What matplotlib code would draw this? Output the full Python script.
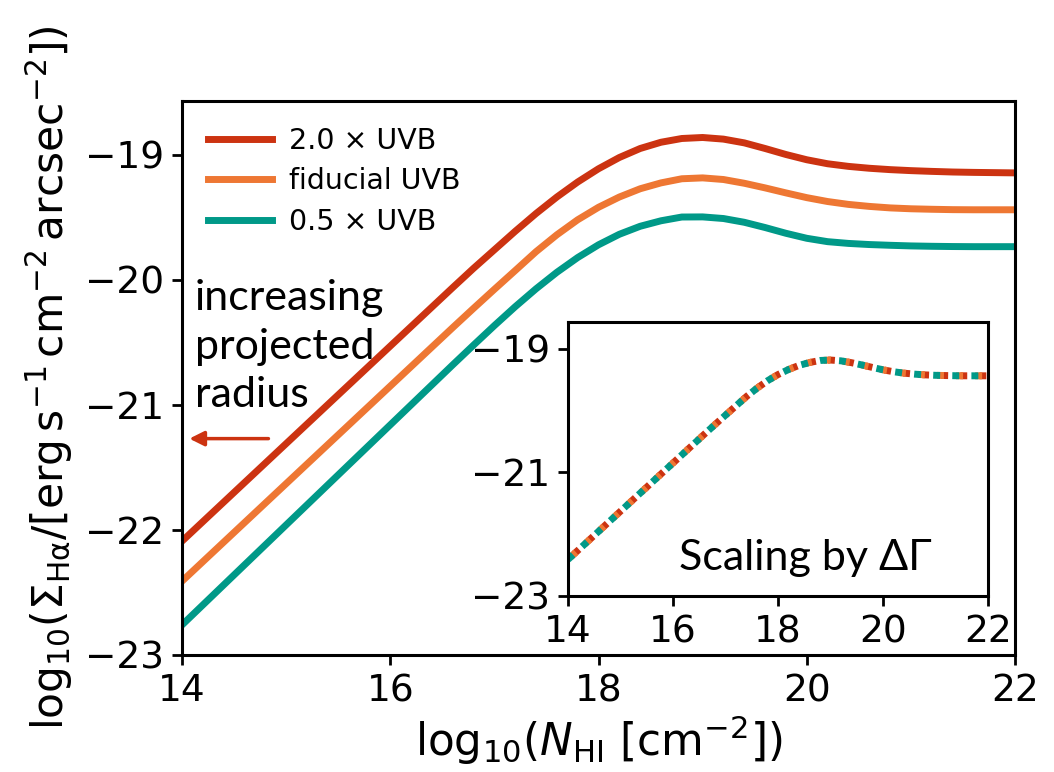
import matplotlib
matplotlib.use("Agg")
import matplotlib.pyplot as plt

# log10(N_HI) grid and log10 surface brightness
log_nhi = [14.0, 14.2, 14.4, 14.6, 14.8, 15.0, 15.2, 15.4, 15.6, 15.8, 16.0,
           16.2, 16.4, 16.6, 16.8, 17.0, 17.2, 17.4, 17.6, 17.8, 18.0,
           18.2, 18.4, 18.6, 18.8, 19.0, 19.2, 19.4, 19.6, 19.8, 20.0,
           20.2, 20.4, 20.6, 20.8, 21.0, 21.2, 21.4, 21.6, 21.8, 22.0]

sb_2x = [-22.090, -21.934, -21.778, -21.622, -21.466, -21.310, -21.154, -20.998,
         -20.842, -20.686, -20.530, -20.374, -20.218, -20.062, -19.908, -19.760,
         -19.612, -19.470, -19.338, -19.218, -19.112, -19.022, -18.950, -18.900,
         -18.870, -18.862, -18.875, -18.905, -18.950, -18.998, -19.040, -19.072,
         -19.093, -19.108, -19.119, -19.127, -19.133, -19.138, -19.141, -19.143,
         -19.145]

sb_fid = [-22.410, -22.254, -22.098, -21.942, -21.786, -21.630, -21.474, -21.318,
          -21.162, -21.006, -20.850, -20.694, -20.538, -20.382, -20.228, -20.076,
          -19.926, -19.775, -19.640, -19.520, -19.420, -19.338, -19.272, -19.225,
          -19.192, -19.185, -19.198, -19.228, -19.265, -19.305, -19.343, -19.374,
          -19.397, -19.413, -19.425, -19.432, -19.436, -19.439, -19.440, -19.440,
          -19.440]

sb_half = [-22.760, -22.600, -22.440, -22.280, -22.120, -21.960, -21.800, -21.640,
           -21.480, -21.320, -21.160, -21.000, -20.840, -20.680, -20.522, -20.366,
           -20.215, -20.072, -19.940, -19.822, -19.720, -19.636, -19.572, -19.528,
           -19.498, -19.497, -19.510, -19.540, -19.582, -19.628, -19.668, -19.695,
           -19.709, -19.718, -19.724, -19.729, -19.732, -19.734, -19.735, -19.735,
           -19.735]

labels = ["2.0 × UVB", "fiducial UVB", "0.5 × UVB"]
colors = ["#CC3311", "#EE7733", "#009988"]

xticks = [14, 16, 18, 20, 22]
yticks_main = [-23, -22, -21, -20, -19]
yticks_inset = [-23, -21, -19]

plt.rcParams["font.family"] = ["DejaVu Sans"]
plt.rcParams["mathtext.fontset"] = "dejavusans"

fig = plt.figure(figsize=(10.54, 7.72), dpi=100)
ax = fig.add_axes([0.1727, 0.1516, 0.7903, 0.7176])

series = [sb_2x, sb_fid, sb_half]
for y, c, lab in zip(series, colors, labels):
    ax.plot(log_nhi, y, color=c, lw=5, label=lab)

ax.set_xlim(14, 22)
ax.set_ylim(-23, -18.57)
ax.set_xticks(xticks)
ax.set_yticks(yticks_main)
ax.tick_params(labelsize=27, width=2, length=7, pad=6)
for s in ax.spines.values():
    s.set_linewidth(2.2)

ax.set_xlabel(r"$\mathrm{log}_{10}(N_{\rm HI}\ [{\rm cm}^{-2}])$", fontsize=31.5, labelpad=3)
ax.set_ylabel(r"$\mathrm{log}_{10}(\Sigma_{\rm H\alpha}/[{\rm erg\,s^{-1}\,cm^{-2}\,arcsec^{-2}}])$",
              fontsize=30.5, labelpad=7)

ax.legend(loc="upper left", frameon=False, fontsize=20.5, handlelength=2.25,
          handletextpad=0.62, labelspacing=0.44, borderaxespad=0.5)

ax.text(14.12, -21.02, "increasing\nprojected\nradius", fontsize=31,
        family=["Lato", "DejaVu Sans"], ha="left", va="baseline", linespacing=1.35)
ax.annotate("", xy=(14.07, -21.27), xytext=(14.83, -21.27),
            arrowprops=dict(arrowstyle="-|>", color=colors[0], lw=2.5,
                            mutation_scale=22, shrinkA=0, shrinkB=0))

# inset: curves rescaled by the change in photoionisation rate
axin = fig.add_axes([0.5389, 0.228, 0.3985, 0.3549])
dash_offsets = [1.6, 2.2, 0.0]
for c, off in zip(colors, dash_offsets):
    axin.plot(log_nhi, sb_fid, color=c, lw=5, linestyle=(off, (1.0, 1.75)))
axin.set_xlim(14, 22)
axin.set_ylim(-23, -18.57)
axin.set_xticks(xticks)
axin.set_yticks(yticks_inset)
axin.tick_params(labelsize=27, width=2, length=7, pad=6)
for s in axin.spines.values():
    s.set_linewidth(2.2)
axin.text(0.566, 0.095, "Scaling by ΔΓ", transform=axin.transAxes, fontsize=31,
          family=["Lato", "DejaVu Sans"], ha="center", va="baseline")

fig.savefig("out.png", dpi=100)
